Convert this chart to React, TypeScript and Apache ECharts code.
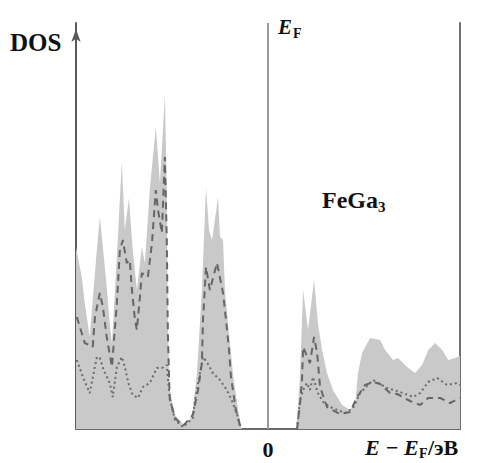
import React, { useEffect, useRef } from "react";
import * as echarts from "echarts";

// Energy E - E_F (eV) and DOS (arb. units)
const totalE = [-7.0, -6.79, -6.68, -6.5, -6.24, -6.13, -6.02, -5.88, -5.77, -5.69, -5.51, -5.33, -5.22, -5.07, -4.93, -4.78, -4.6, -4.49, -4.31, -4.09, -3.94, -3.76, -3.69, -3.65, -3.58, -3.39, -3.1, -2.85, -2.74, -2.59, -2.41, -2.26, -2.15, -2.04, -1.82, -1.75, -1.64, -1.57, -1.46, -1.28, -1.09, -0.95, 1.02, 1.09, 1.17, 1.28, 1.46, 1.68, 1.82, 1.97, 2.15, 2.37, 2.7, 2.99, 3.18, 3.28, 3.43, 3.72, 4.09, 4.27, 4.56, 4.74, 5.07, 5.36, 5.62, 5.84, 6.09, 6.35, 6.57, 6.82, 7.0];
const totalDos = [18.2, 15.2, 12.6, 9.2, 17.9, 21.2, 18.2, 14.2, 10.6, 8.6, 17.2, 26.7, 19.9, 23.1, 17.9, 13.9, 18.2, 16.6, 23.9, 30.2, 24.6, 33.4, 23.9, 10.6, 3.9, 1.4, 0.5, 0.9, 1.9, 5.6, 13.9, 24.2, 19.9, 18.9, 23.2, 19.2, 18.9, 13.9, 10.6, 5.6, 1.9, 0, 0, 1.9, 5.6, 13.9, 9.9, 14.9, 10.6, 7.9, 5.6, 3.9, 2.4, 1.9, 2.6, 5.6, 7.6, 9.1, 8.9, 7.9, 6.9, 7.1, 6.2, 5.6, 6.4, 7.9, 8.6, 7.9, 6.9, 7.1, 7.3];

const dashedE = [-6.97, -6.68, -6.39, -6.31, -6.13, -6.02, -5.88, -5.69, -5.51, -5.4, -5.29, -5.15, -5.04, -4.96, -4.85, -4.78, -4.67, -4.6, -4.38, -4.23, -4.09, -4.01, -3.87, -3.76, -3.69, -3.65, -3.61, -3.58, -3.39, -3.1, -2.74, -2.55, -2.41, -2.37, -2.26, -2.12, -1.86, -1.64, -1.53, -1.42, -1.35, -1.17, -0.99, 1.06, 1.17, 1.24, 1.28, 1.53, 1.68, 1.79, 1.9, 2.15, 2.63, 2.99, 3.25, 3.54, 3.83, 4.09, 4.45, 4.71, 5.18, 5.55, 5.84, 6.28, 6.64, 7.0];
const dashedDos = [11.2, 8.6, 8.2, 11.2, 13.6, 12.2, 9.2, 6.2, 12.6, 17.9, 18.9, 16.6, 16.9, 13.9, 10.9, 9.9, 13.2, 15.6, 15.2, 18.6, 23.9, 21.9, 19.6, 27.2, 18.9, 9.5, 5.5, 3.0, 1.1, 0.3, 1.4, 3.9, 6.6, 10.9, 16.2, 13.9, 16.6, 13.6, 10.9, 7.9, 5.2, 1.9, 0, 0, 2.6, 4.9, 8.2, 6.6, 9.2, 7.6, 4.2, 2.2, 1.5, 1.7, 3.2, 4.4, 4.7, 4.5, 3.6, 3.5, 2.8, 2.4, 3.1, 3.1, 2.6, 3.1];

const dottedE = [-6.97, -6.75, -6.5, -6.24, -6.13, -5.99, -5.77, -5.66, -5.51, -5.33, -5.22, -5.07, -4.93, -4.74, -4.56, -4.31, -4.05, -3.87, -3.69, -3.58, -3.39, -3.1, -2.74, -2.66, -2.37, -2.23, -2.01, -1.75, -1.5, -1.28, -1.09, -0.99, 1.06, 1.17, 1.28, 1.42, 1.53, 1.64, 1.82, 2.01, 2.26, 2.81, 3.1, 3.36, 3.83, 4.34, 4.82, 5.29, 5.55, 5.84, 6.17, 6.53, 6.9, 7.0];
const dottedDos = [6.9, 5.2, 3.6, 7.2, 7.1, 5.9, 4.6, 3.2, 6.2, 7.2, 6.2, 4.4, 3.4, 3.1, 4.2, 4.6, 6.1, 6.1, 6.4, 3.0, 0.9, 0.2, 1.1, 2.9, 7.2, 6.7, 5.6, 4.9, 3.9, 2.6, 1.1, 0, 0, 2.9, 3.9, 4.6, 3.9, 5.2, 3.6, 2.7, 2.2, 1.6, 2.1, 3.6, 4.9, 4.1, 3.7, 3.2, 3.6, 4.7, 5.1, 4.4, 4.6, 4.4];

const xTicks = [-7, 0, 7];
const xLabelShown = [0];

const SERIF = '"Liberation Serif", "DejaVu Serif", serif';

function pairs(xs: number[], ys: number[], breakAtGap: boolean) {
  const out: any[] = [];
  xs.forEach((x, i) => {
    if (breakAtGap && i > 0 && xs[i - 1] < 0 && x > 0) out.push([0, "-"]);
    out.push([x, ys[i]]);
  });
  return out;
}

export default function App() {
  const ref = useRef<HTMLDivElement>(null);
  useEffect(() => {
    if (!ref.current) return;
    const chart = echarts.init(ref.current, undefined, { renderer: "svg" });
    const yMax = 40.6;
    chart.setOption({
      animation: false,
      backgroundColor: "#ffffff",
      grid: { left: 76, right: 18, top: 23, bottom: 34 },
      xAxis: {
        type: "value",
        min: xTicks[0],
        max: xTicks[xTicks.length - 1],
        interval: 7,
        axisLine: { show: true, onZero: false, lineStyle: { color: "#6a6a6a", width: 2 } },
        axisTick: { show: false },
        splitLine: { show: false },
        axisLabel: {
          show: true,
          margin: 9,
          formatter: (v: number) => (xLabelShown.includes(v) ? String(v) : ""),
          fontFamily: SERIF,
          fontWeight: "bold",
          fontSize: 22,
          color: "#111",
        },
      },
      yAxis: [
        {
          type: "value",
          min: 0,
          max: yMax,
          position: "left",
          axisLine: {
            show: true,
            onZero: false,
            symbol: ["none", "arrow"],
            symbolSize: [7, 13],
            symbolOffset: [0, -6],
            lineStyle: { color: "#5a5a5a", width: 2 },
          },
          axisTick: { show: false },
          axisLabel: { show: false },
          splitLine: { show: false },
        },
        {
          type: "value",
          min: 0,
          max: yMax,
          position: "right",
          axisLine: { show: true, onZero: false, lineStyle: { color: "#707070", width: 2 } },
          axisTick: { show: false },
          axisLabel: { show: false },
          splitLine: { show: false },
        },
      ],
      series: [
        {
          type: "line",
          name: "total",
          data: pairs(totalE, totalDos, false),
          symbol: "none",
          lineStyle: { width: 0, color: "#c9c9c9" },
          areaStyle: { color: "#c9c9c9", opacity: 1 },
          z: 1,
          markLine: {
            silent: true,
            symbol: ["none", "none"],
            label: { show: false },
            lineStyle: { color: "#9a9a9a", width: 2, type: "solid" },
            data: [{ xAxis: 0 }],
          },
        },
        {
          type: "line",
          name: "dashed",
          data: pairs(dashedE, dashedDos, true),
          symbol: "none",
          lineStyle: { width: 2, color: "#666666", type: [7, 5] },
          z: 3,
        },
        {
          type: "line",
          name: "dotted",
          data: pairs(dottedE, dottedDos, true),
          symbol: "none",
          lineStyle: { width: 2, color: "#6a6a6a", type: [2, 3] },
          z: 3,
        },
      ],
      graphic: [
        {
          type: "text",
          x: 10,
          y: 42,
          style: { text: "DOS", font: `bold 25px ${SERIF}`, fill: "#111", align: "left", verticalAlign: "middle" },
        },
        {
          type: "text",
          x: 278,
          y: 27,
          style: { text: "E", font: `italic bold 21px ${SERIF}`, fill: "#111", align: "left", verticalAlign: "middle" },
        },
        {
          type: "text",
          x: 293,
          y: 33,
          style: { text: "F", font: `bold 14px ${SERIF}`, fill: "#111", align: "left", verticalAlign: "middle" },
        },
        {
          type: "text",
          x: 322,
          y: 200,
          style: { text: "FeGa", font: `bold 24px ${SERIF}`, fill: "#111", align: "left", verticalAlign: "middle" },
        },
        {
          type: "text",
          x: 378,
          y: 207,
          style: { text: "3", font: `bold 15px ${SERIF}`, fill: "#111", align: "left", verticalAlign: "middle" },
        },
        {
          type: "text",
          x: 365,
          y: 447,
          style: { text: "E \u2212 E", font: `italic bold 22px ${SERIF}`, fill: "#111", align: "left", verticalAlign: "middle" },
        },
        {
          type: "text",
          x: 419,
          y: 453,
          style: { text: "F", font: `bold 14px ${SERIF}`, fill: "#111", align: "left", verticalAlign: "middle" },
        },
        {
          type: "text",
          x: 428,
          y: 447,
          style: { text: "/эВ", font: `bold 22px ${SERIF}`, fill: "#111", align: "left", verticalAlign: "middle" },
        },
      ],
    });
    return () => chart.dispose();
  }, []);
  return (
    <div
      ref={ref}
      style={{ position: "fixed", left: 0, top: 0, width: 478, height: 463 }}
    />
  );
}
